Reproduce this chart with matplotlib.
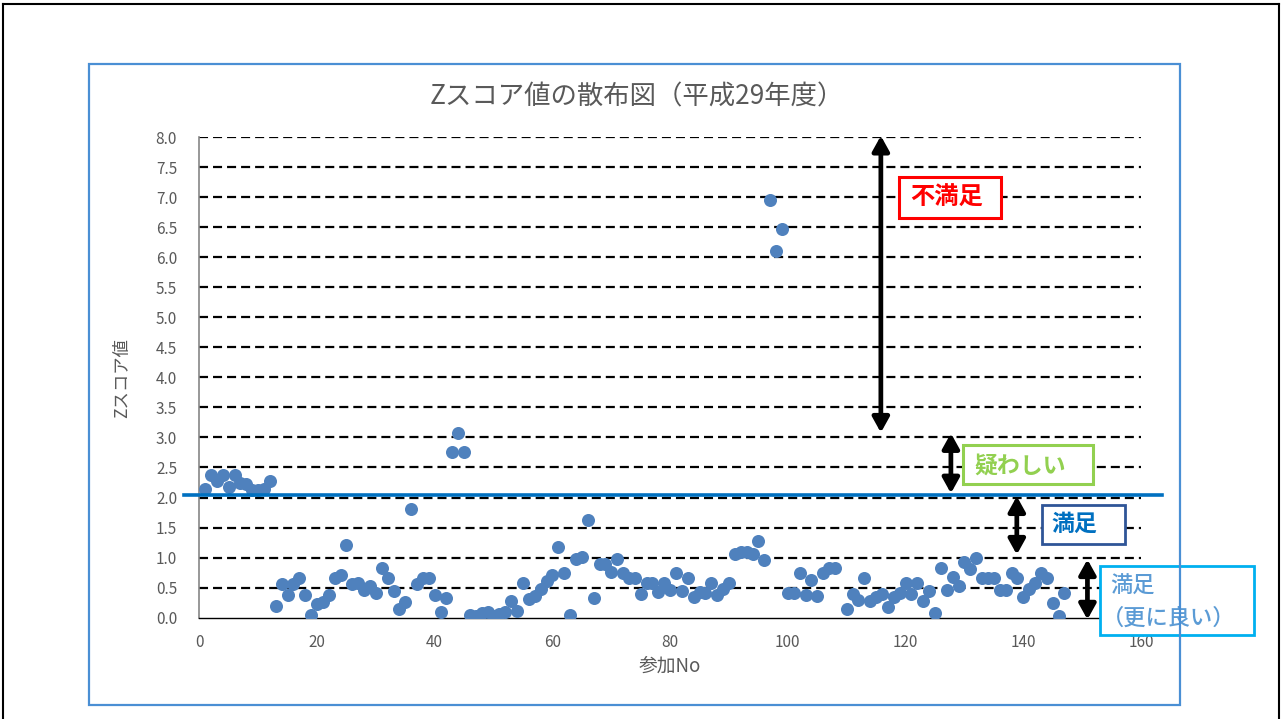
import matplotlib
matplotlib.use("Agg")
import matplotlib.pyplot as plt
from matplotlib.patches import Rectangle
from matplotlib.lines import Line2D

plt.rcParams['font.family'] = ['Noto Sans CJK JP', 'DejaVu Sans']
plt.rcParams['lines.scale_dashes'] = False

# =========================
# DATA
# =========================
participant_no = list(range(1, 109)) + list(range(110, 148))
z_scores = [
    2.15, 2.38, 2.27, 2.38, 2.18, 2.38, 2.25, 2.23, 2.13, 2.12,
    2.14, 2.27, 0.20, 0.56, 0.38, 0.56, 0.66, 0.38, 0.04, 0.23,
    0.26, 0.38, 0.66, 0.71, 1.21, 0.56, 0.57, 0.46, 0.53, 0.41,
    0.82, 0.66, 0.45, 0.14, 0.26, 1.81, 0.56, 0.66, 0.66, 0.38,
    0.09, 0.32, 2.75, 3.08, 2.75, 0.04, 0.02, 0.07, 0.10, 0.02,
    0.06, 0.10, 0.28, 0.11, 0.57, 0.31, 0.36, 0.47, 0.61, 0.71,
    1.17, 0.75, 0.05, 0.97, 1.01, 1.63, 0.32, 0.89, 0.89, 0.76,
    0.98, 0.75, 0.66, 0.66, 0.40, 0.57, 0.57, 0.42, 0.57, 0.46,
    0.75, 0.45, 0.66, 0.35, 0.42, 0.41, 0.57, 0.38, 0.47, 0.58,
    1.06, 1.10, 1.10, 1.06, 1.27, 0.96, 6.95, 6.10, 6.47, 0.41,
    0.41, 0.75, 0.38, 0.63, 0.36, 0.75, 0.82, 0.82,
    0.14, 0.40, 0.30, 0.66, 0.27, 0.35, 0.40, 0.18, 0.35, 0.41,
    0.58, 0.39, 0.58, 0.27, 0.45, 0.08, 0.83, 0.46, 0.68, 0.53,
    0.92, 0.81, 0.99, 0.66, 0.66, 0.66, 0.46, 0.46, 0.75, 0.66,
    0.35, 0.47, 0.58, 0.75, 0.66, 0.24, 0.03, 0.41,
]

y_ticks = [0.0, 0.5, 1.0, 1.5, 2.0, 2.5, 3.0, 3.5, 4.0, 4.5, 5.0, 5.5, 6.0, 6.5, 7.0, 7.5, 8.0]
x_ticks = [0, 20, 40, 60, 80, 100, 120, 140, 160]

threshold = 2.04

# judgement bands: (arrow x, arrow bottom, arrow top)
band_arrows = [
    (115.8, 3.08, 8.02),
    (127.7, 2.07, 3.07),
    (138.9, 1.05, 2.02),
    (150.9, -0.03, 0.97),
]

TEXT_GRAY = "#595959"
DOT_COLOR = "#4f81bd"

# =========================
# FIGURE
# =========================
W, H = 1283, 719
fig = plt.figure(figsize=(W / 100, H / 100), dpi=100)


def fx(px):
    return px / W


def fy(py):
    return 1 - py / H


# slide border and chart frame
fig.add_artist(Line2D([fx(3), fx(3)], [0, fy(4)], color="black", lw=1.5))
fig.add_artist(Line2D([fx(1279), fx(1279)], [0, fy(4)], color="black", lw=1.5))
fig.add_artist(Line2D([fx(3), fx(1279)], [fy(4), fy(4)], color="black", lw=1.5))
fig.add_artist(Rectangle((fx(89), fy(705)), fx(1180) - fx(89), fy(64) - fy(705),
                         fill=False, ec="#4a8fd4", lw=1.6))

ax = fig.add_axes([fx(199.3), fy(617.7), fx(1141) - fx(199.3), fy(137) - fy(617.7)])

ax.scatter(participant_no, z_scores, s=88, color=DOT_COLOR, linewidths=0, zorder=3)

ax.set_xlim(0, 160)
ax.set_ylim(0, 8)
ax.set_xticks(x_ticks)
ax.set_yticks(y_ticks)
ax.set_yticklabels([f"{v:.1f}" for v in y_ticks])
ax.tick_params(length=0, labelsize=11, colors=TEXT_GRAY)
ax.tick_params(axis="x", pad=12)
ax.tick_params(axis="y", pad=16)

for v in y_ticks[1:]:
    ax.axhline(v, color="black", lw=1.6, linestyle=(0, (6.5, 3.6)), zorder=1)

for side in ["top", "right"]:
    ax.spines[side].set_visible(False)
ax.spines["left"].set_color("#868686")
ax.spines["left"].set_linewidth(1.2)
ax.spines["bottom"].set_color("black")
ax.spines["bottom"].set_linewidth(1.0)

# threshold line
ax.plot([-2.6, 163.5], [threshold, threshold], color="#0070c0", lw=2.6,
        clip_on=False, zorder=4)

# double arrows
for x, y0, y1 in band_arrows:
    ax.annotate("", xy=(x, y1), xytext=(x, y0), annotation_clip=False,
                arrowprops=dict(arrowstyle="<|-|>,head_length=0.45,head_width=0.25",
                                lw=3.4, color="black", mutation_scale=20,
                                shrinkA=0, shrinkB=0), zorder=5)

# label boxes (data coordinates)
boxes = [
    (118.9, 6.66, 17.3, 0.67, "#ff0000", 2.2),
    (129.8, 2.22, 22.1, 0.66, "#92d050", 2.2),
    (143.1, 1.23, 14.2, 0.65, "#2f5597", 2.0),
    (153.0, -0.29, 26.2, 1.15, "#00b0f0", 2.0),
]
for bx, by, bw, bh, ec, lw in boxes:
    ax.add_patch(Rectangle((bx, by), bw, bh, fc="white", ec=ec, lw=lw,
                           clip_on=False, zorder=6))

ax.text(127.0, 6.99, "不満足", color="#ff0000", fontsize=17.5, fontweight="bold",
        ha="center", va="center", zorder=7, clip_on=False)
ax.text(139.4, 2.53, "疑わしい", color="#92d050", fontsize=16.5, fontweight="bold",
        ha="center", va="center", zorder=7, clip_on=False)
ax.text(148.7, 1.56, "満足", color="#0070c0", fontsize=16.5, fontweight="bold",
        ha="center", va="center", zorder=7, clip_on=False)
ax.text(154.7, 0.52, "満足", color="#5b9bd5", fontsize=16, fontweight="medium",
        ha="left", va="center", zorder=7, clip_on=False)
ax.text(153.3, -0.005, "（更に良い）", color="#5b9bd5", fontsize=16, fontweight="medium",
        ha="left", va="center", zorder=7, clip_on=False)

# titles
fig.text(fx(637), fy(97), "Zスコア値の散布図（平成29年度）", color=TEXT_GRAY,
         fontsize=19, ha="center", va="center")
fig.text(fx(122), fy(378), "Zスコア値", color=TEXT_GRAY, fontsize=12.5,
         rotation=90, ha="center", va="center")
fig.text(fx(670), fy(666), "参加No", color=TEXT_GRAY, fontsize=13.5,
         ha="center", va="center")

fig.savefig("out.png", dpi=100)
